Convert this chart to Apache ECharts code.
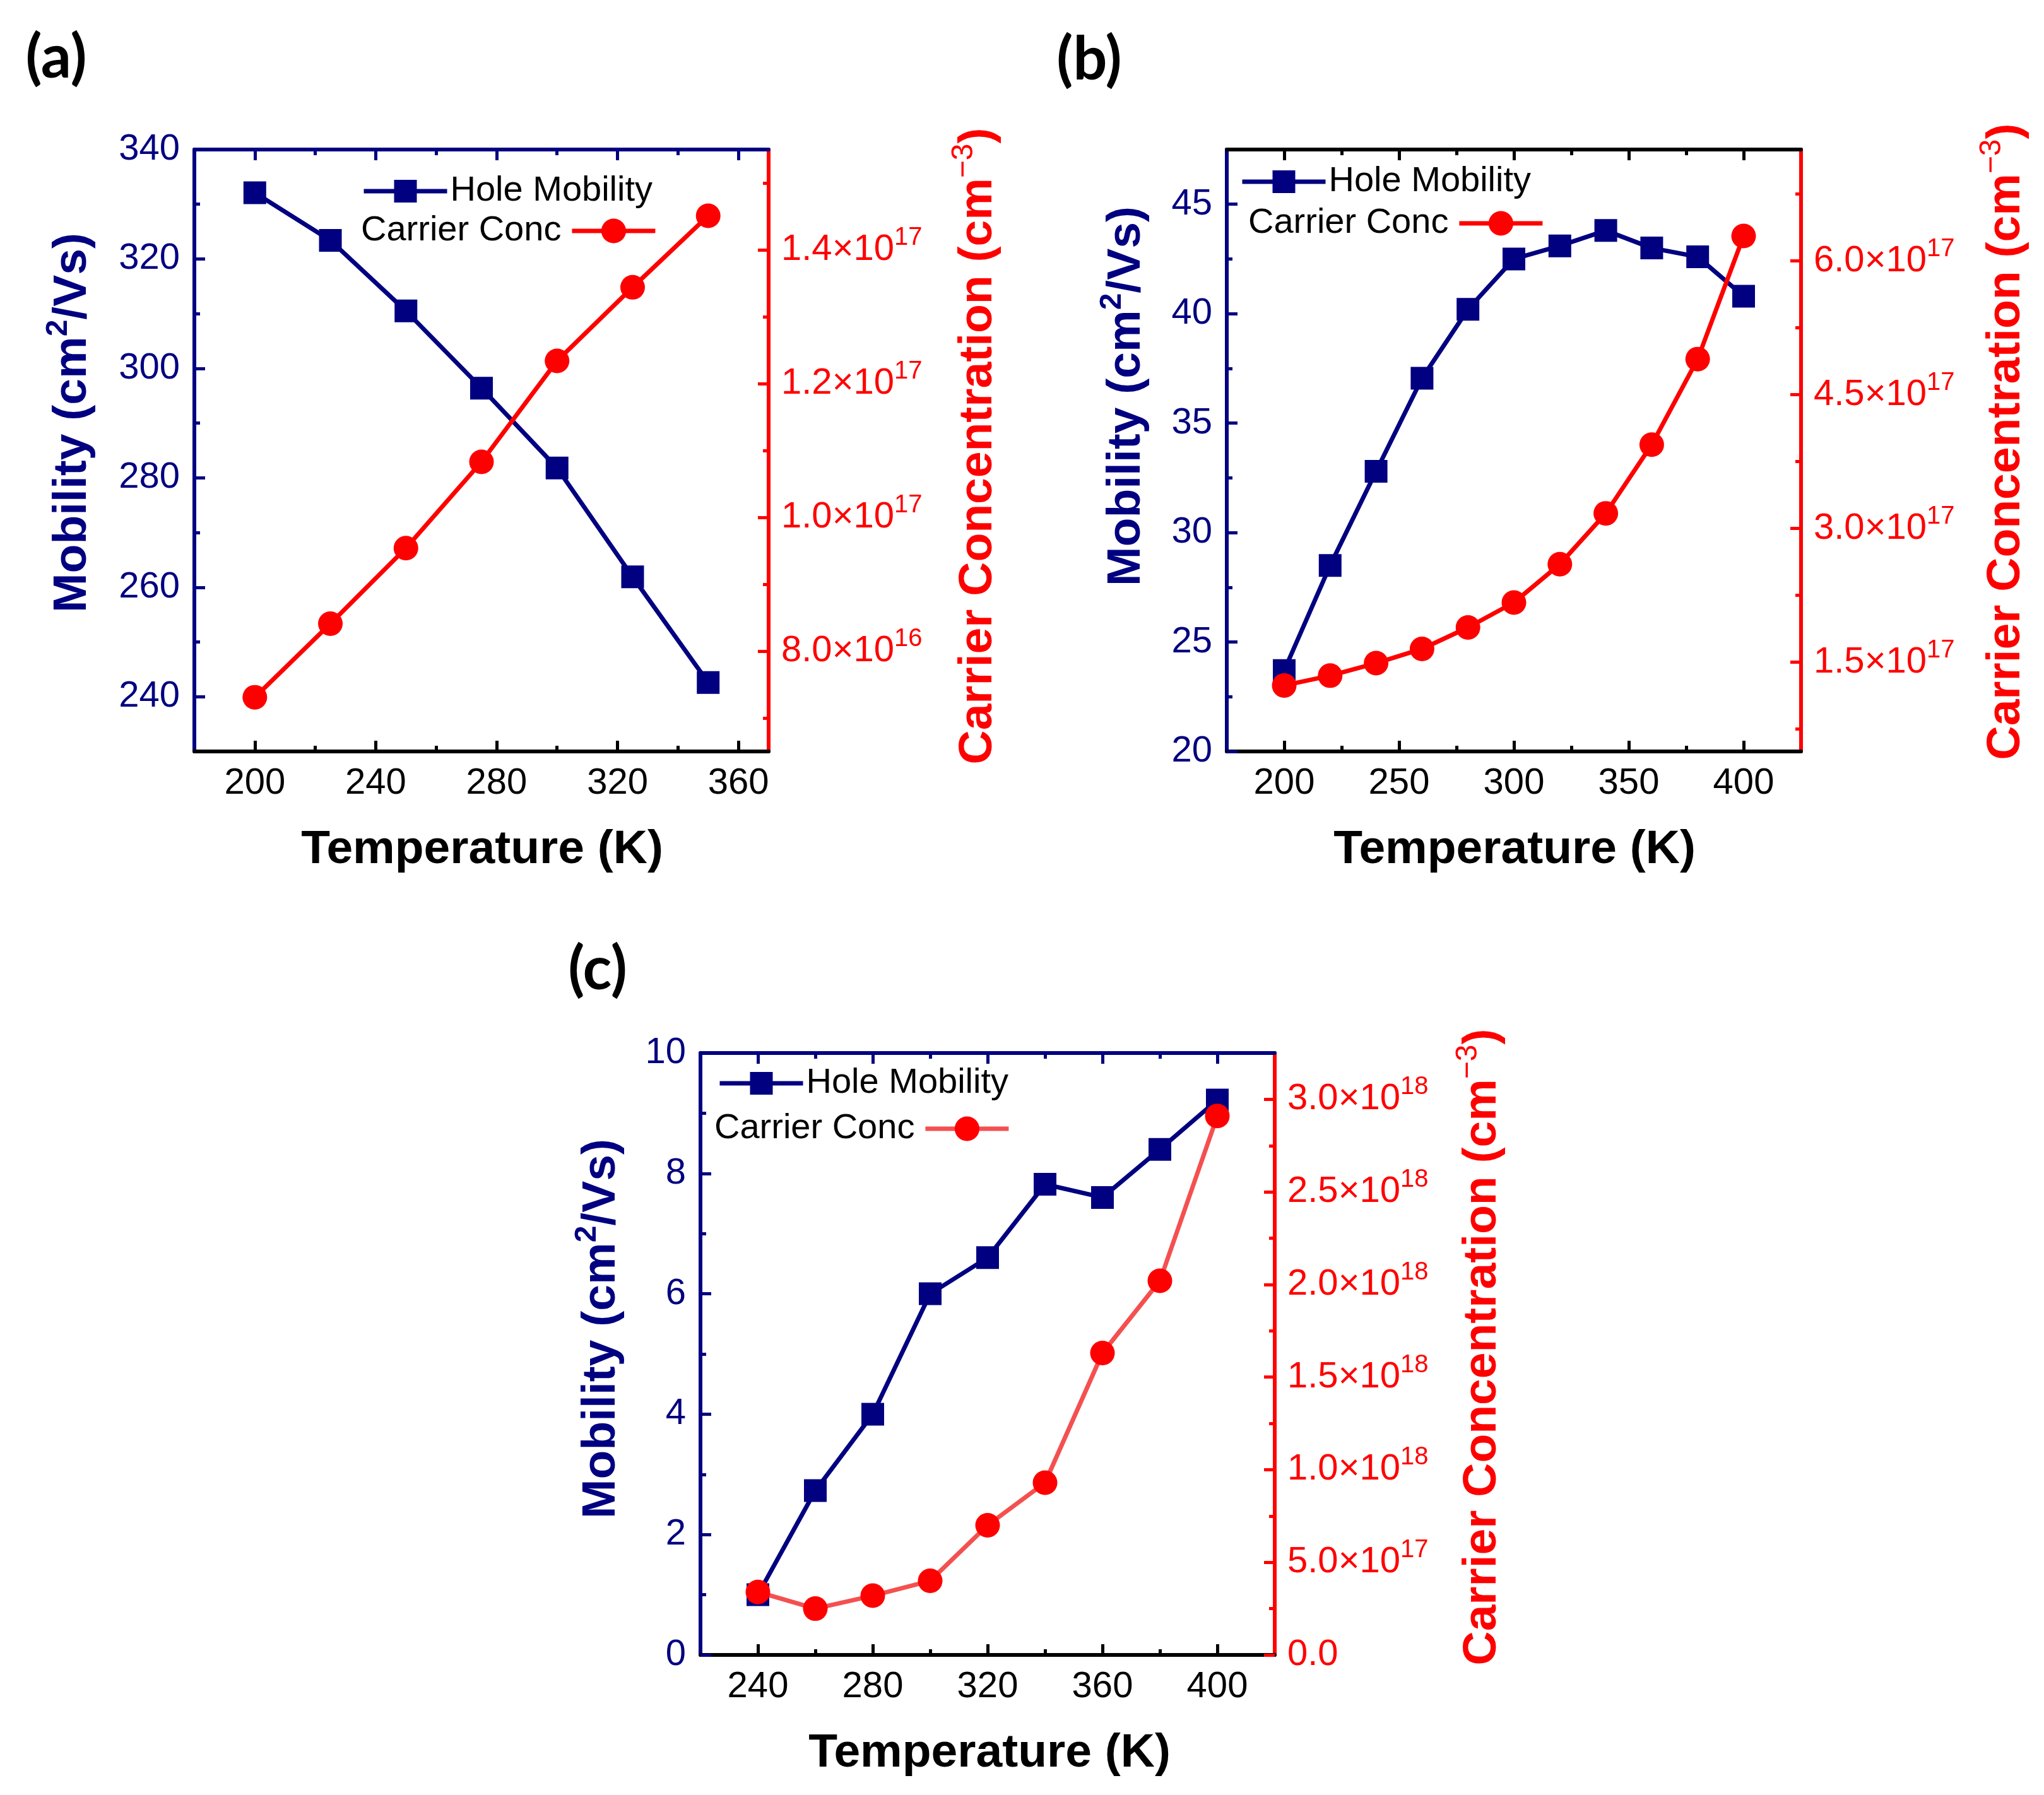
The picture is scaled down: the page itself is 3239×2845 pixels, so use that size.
<!DOCTYPE html>
<html>
<head>
<meta charset="utf-8">
<script src="https://cdn.jsdelivr.net/npm/echarts@6/dist/echarts.min.js"></script>
<style>
html,body{margin:0;padding:0;background:#fff;}
#c{width:3239px;height:2845px;}
</style>
</head>
<body>
<div id="c"></div>
<script>
// ---------------- data ----------------
const tempA = [200, 225, 250, 275, 300, 325, 350];
const mobilityA = [332.1, 323.4, 310.5, 296.4, 281.8, 261.9, 242.6];
const carrierA = [7.31e16, 8.41e16, 9.54e16, 1.083e17, 1.234e17, 1.344e17, 1.451e17];

const tempB = [200, 220, 240, 260, 280, 300, 320, 340, 360, 380, 400];
const mobilityB = [23.7, 28.5, 32.8, 37.05, 40.2, 42.5, 43.1, 43.8, 43.0, 42.6, 40.8];
const carrierB = [1.24e17, 1.35e17, 1.49e17, 1.65e17, 1.89e17, 2.17e17, 2.6e17, 3.17e17, 3.94e17, 4.9e17, 6.28e17];

const tempC = [240, 260, 280, 300, 320, 340, 360, 380, 400];
const mobilityC = [1.0, 2.73, 4.0, 6.0, 6.6, 7.82, 7.6, 8.4, 9.22];
const carrierC = [3.4e17, 2.5e17, 3.2e17, 4.0e17, 7.0e17, 9.3e17, 1.63e18, 2.02e18, 2.91e18];

// tick values
const xMajorA = [200, 240, 280, 320, 360];
const xMinorA = [220, 260, 300, 340];
const yLMajorA = [240, 260, 280, 300, 320, 340];
const yLMinorA = [250, 270, 290, 310, 330];
const yRMajorA = [8e16, 1e17, 1.2e17, 1.4e17];
const yRMinorA = [7e16, 9e16, 1.1e17, 1.3e17, 1.5e17];

const xMajorB = [200, 250, 300, 350, 400];
const xMinorB = [225, 275, 325, 375];
const yLMajorB = [20, 25, 30, 35, 40, 45];
const yLMinorB = [22.5, 27.5, 32.5, 37.5, 42.5];
const yRMajorB = [1.5e17, 3e17, 4.5e17, 6e17];
const yRMinorB = [0.75e17, 2.25e17, 3.75e17, 5.25e17, 6.75e17];

const xMajorC = [240, 280, 320, 360, 400];
const xMinorC = [260, 300, 340, 380];
const yLMajorC = [0, 2, 4, 6, 8, 10];
const yLMinorC = [1, 3, 5, 7, 9];
const yRMajorC = [0, 5e17, 1e18, 1.5e18, 2e18, 2.5e18, 3e18];
const yRMinorC = [2.5e17, 7.5e17, 1.25e18, 1.75e18, 2.25e18, 2.75e18];

// ---------------- styling ----------------
const FONT = 'Liberation Sans';
const NAVY = '#000080';
const RED = '#ff0000';
const AXW = 6, TKW = 5, MAJ = 17, MINL = 9, LW = 7;

const panels = [
  {left: 308, top: 237, xr: [180, 370], yl: [230, 340], yr: [6.5e16, 1.55e17],
   xMaj: xMajorA, xMin: xMinorA, ylMaj: yLMajorA, ylMin: yLMinorA, yrMaj: yRMajorA, yrMin: yRMinorA,
   topColor: NAVY, temp: tempA, mob: mobilityA, conc: carrierA, concLine: RED, tag: 'a',
   leg1: [573, 303], leg2: [572, 366]},
  {left: 1944, top: 237, xr: [175, 425], yl: [20, 47.5], yr: [0.5e17, 7.25e17],
   xMaj: xMajorB, xMin: xMinorB, ylMaj: yLMajorB, ylMin: yLMinorB, yrMaj: yRMajorB, yrMin: yRMinorB,
   topColor: '#000', temp: tempB, mob: mobilityB, conc: carrierB, concLine: RED, tag: 'b',
   leg1: [1965, 288], leg2: [1978, 354]},
  {left: 1110, top: 1669, xr: [220, 420], yl: [0, 10], yr: [0, 3.25e18],
   xMaj: xMajorC, xMin: xMinorC, ylMaj: yLMajorC, ylMin: yLMinorC, yrMaj: yRMajorC, yrMin: yRMinorC,
   topColor: NAVY, temp: tempC, mob: mobilityC, conc: carrierC, concLine: '#f45050', tag: 'c',
   leg1: [1137, 1717], leg2: [1132, 1789]}
];
const PW = 910, PH = 954;

function sci(v) {
  if (v === 0) return '{m|0.0}';
  const e = Math.floor(Math.log10(v) + 1e-9);
  const m = v / Math.pow(10, e);
  return '{m|' + m.toFixed(1) + '×10}{s|' + e + '}';
}

function base(g, r) {
  return {type: 'value', gridIndex: g, min: r[0], max: r[1], scale: true,
          splitLine: {show: false}, axisPointer: {show: false}};
}
function tick(vals, len, color) {
  return {show: true, inside: true, length: len, customValues: vals, lineStyle: {color: color, width: TKW}};
}

const grid = [], xAxis = [], yAxis = [], series = [], legend = [];
panels.forEach((p, i) => {
  grid.push({left: p.left, top: p.top, width: PW, height: PH, containLabel: false});
  // x axes
  xAxis.push(Object.assign(base(i, p.xr), {position: 'bottom',
    axisLine: {show: true, onZero: false, lineStyle: {color: '#000', width: AXW}},
    axisTick: tick(p.xMaj, MAJ, '#000'),
    axisLabel: {show: true, customValues: p.xMaj, margin: 22, color: '#000', fontSize: 58, fontFamily: FONT}}));
  xAxis.push(Object.assign(base(i, p.xr), {position: 'bottom',
    axisLine: {show: false, onZero: false}, axisTick: tick(p.xMin, MINL, '#000'), axisLabel: {show: false}}));
  xAxis.push(Object.assign(base(i, p.xr), {position: 'top',
    axisLine: {show: true, onZero: false, lineStyle: {color: p.topColor, width: AXW}},
    axisTick: tick(p.xMaj, MAJ, p.topColor), axisLabel: {show: false}}));
  xAxis.push(Object.assign(base(i, p.xr), {position: 'top',
    axisLine: {show: false, onZero: false}, axisTick: tick(p.xMin, MINL, p.topColor), axisLabel: {show: false}}));
  // y axes
  yAxis.push(Object.assign(base(i, p.yl), {position: 'left',
    axisLine: {show: true, onZero: false, lineStyle: {color: NAVY, width: AXW}},
    axisTick: tick(p.ylMaj, MAJ, NAVY),
    axisLabel: {show: true, customValues: p.ylMaj, margin: 23, color: NAVY, fontSize: 58, fontFamily: FONT}}));
  yAxis.push(Object.assign(base(i, p.yl), {position: 'left',
    axisLine: {show: false, onZero: false}, axisTick: tick(p.ylMin, MINL, NAVY), axisLabel: {show: false}}));
  yAxis.push(Object.assign(base(i, p.yr), {position: 'right',
    axisLine: {show: true, onZero: false, lineStyle: {color: RED, width: AXW}},
    axisTick: tick(p.yrMaj, MAJ, RED),
    axisLabel: {show: true, customValues: p.yrMaj, margin: 20, formatter: sci,
      rich: {
        m: {fontSize: 58, fontFamily: FONT, color: RED, lineHeight: 78},
        s: {fontSize: 40, fontFamily: FONT, color: RED, lineHeight: 40, verticalAlign: 'top'}
      }}}));
  yAxis.push(Object.assign(base(i, p.yr), {position: 'right',
    axisLine: {show: false, onZero: false}, axisTick: tick(p.yrMin, MINL, RED), axisLabel: {show: false}}));

  series.push({type: 'line', name: 'Hole Mobility ' + p.tag, xAxisIndex: 4 * i, yAxisIndex: 4 * i,
    data: p.temp.map((t, k) => [t, p.mob[k]]),
    symbol: 'rect', symbolSize: 36, itemStyle: {color: NAVY},
    lineStyle: {color: NAVY, width: LW}, animation: false});
  series.push({type: 'line', name: 'Carrier Conc ' + p.tag, xAxisIndex: 4 * i, yAxisIndex: 4 * i + 2,
    data: p.temp.map((t, k) => [t, p.conc[k]]),
    symbol: 'circle', symbolSize: 39, itemStyle: {color: RED},
    lineStyle: {color: p.concLine, width: LW}, animation: false});

  const fmt = n => n.replace(/ [abc]$/, '');
  legend.push({data: ['Hole Mobility ' + p.tag], left: p.leg1[0], top: p.leg1[1] - 28,
    align: 'left', itemWidth: 132, itemHeight: 45, padding: 0, selectedMode: false, formatter: fmt,
    lineStyle: {width: LW}, textStyle: {fontSize: 56, fontFamily: FONT, color: '#000'}});
  legend.push({data: ['Carrier Conc ' + p.tag], left: p.leg2[0], top: p.leg2[1] - 28,
    align: 'right', itemWidth: 132, itemHeight: 49, padding: 0, selectedMode: false, formatter: fmt,
    lineStyle: {width: LW}, textStyle: {fontSize: 56, fontFamily: FONT, color: '#000', padding: [0, 12, 0, 0]}});
});

// ---------------- titles ----------------
function bTok(fill) { return {fontSize: 75, fontWeight: 'bold', fontFamily: FONT, fill: fill, lineHeight: 92}; }
function sTok(fill, w) { return {fontSize: 48, fontWeight: w, fontFamily: FONT, fill: fill, lineHeight: 48, verticalAlign: 'top'}; }

function mobTitle(x, y) {
  return {type: 'text', x: x, y: y, rotation: Math.PI / 2, z: 10,
    style: {text: '{b|Mobility (cm}{s|2}{b|/Vs)}', align: 'center', verticalAlign: 'middle',
      rich: {b: bTok(NAVY), s: sTok(NAVY, 'bold')}}};
}
function concTitle(x, y) {
  return {type: 'text', x: x, y: y, rotation: Math.PI / 2, z: 10,
    style: {text: '{b|Carrier Concentration (cm}{s|−3}{b|)}', align: 'center', verticalAlign: 'middle',
      rich: {b: bTok(RED), s: sTok(RED, 'normal')}}};
}
function tempTitle(x, y) {
  return {type: 'text', x: x, y: y, z: 10,
    style: {text: 'Temperature (K)', align: 'center', verticalAlign: 'middle',
      font: 'bold 75px "Liberation Sans"', fill: '#000'}};
}
function panelTag(t, x, y) {
  return {type: 'text', x: x, y: y, z: 10,
    style: {text: t, align: 'center', verticalAlign: 'middle', font: 'bold 95px Lato', fill: '#000'}};
}

const graphic = [
  panelTag('(a)', 89, 92), panelTag('(b)', 1726, 95), panelTag('(c)', 947, 1537),
  mobTitle(115, 670), concTitle(1550, 707), tempTitle(764, 1347),
  mobTitle(1785, 628), concTitle(3179, 700), tempTitle(2400, 1347),
  mobTitle(953, 2106), concTitle(2349, 2135), tempTitle(1568, 2779)
];

const chart = echarts.init(document.getElementById('c'), null, {renderer: 'canvas'});
chart.setOption({
  backgroundColor: '#fff',
  animation: false,
  grid: grid, xAxis: xAxis, yAxis: yAxis, series: series, legend: legend, graphic: graphic
});
</script>
</body>
</html>
